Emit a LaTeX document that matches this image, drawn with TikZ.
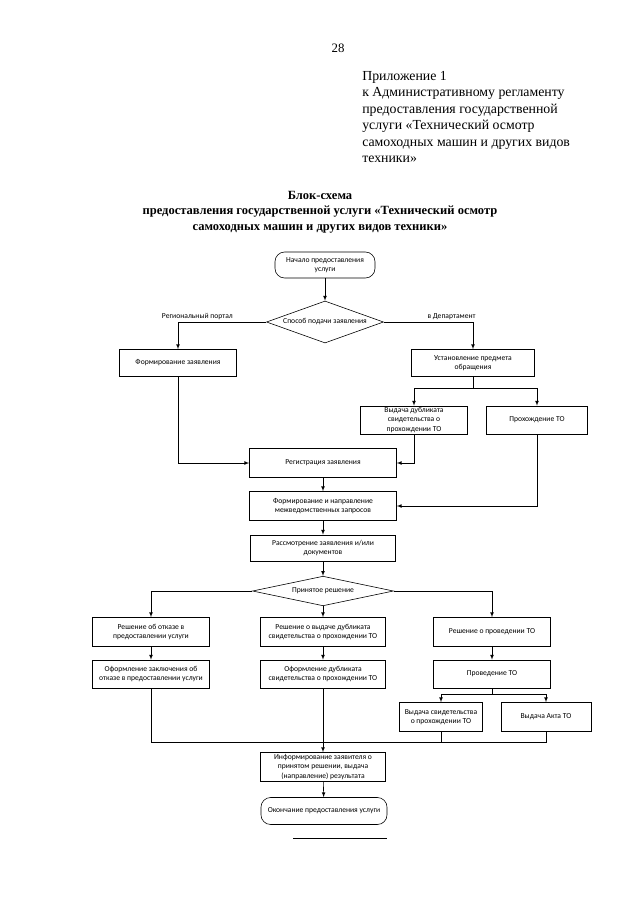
\documentclass[tikz,border=0pt]{standalone}
\usepackage{fontspec}
\setmainfont{Liberation Serif}
\newfontfamily\flowfont{Carlito}
\usetikzlibrary{shapes.geometric}
\newdimen\pxu \pxu=0.328125mm

\begin{document}
\begin{tikzpicture}
		[
		x=0.328125mm, y=-0.328125mm, >=latex, line width=0.55pt,
		%Voreinstellungen fuer die Bloecke
		block/.style={draw, rectangle, align=center, inner sep=1pt, font=\flowfont\fontsize{7.1}{8.8}\selectfont},
		term/.style={block, rounded corners=9pt},
		razv/.style={block, diamond, aspect=3},
		lbl/.style={font=\flowfont\fontsize{7.1}{8.8}\selectfont, inner sep=1.5pt}
		]
		
		%Seitenrahmen
		\useasboundingbox (0,0) rectangle (640,905);
		
		%Kopf
		\node[font=\fontsize{12}{14}\selectfont] (nomer) at (338,48) {28};
		\node[anchor=north west, align=left, inner sep=0pt, font=\fontsize{12.9}{15.4}\selectfont] (prilozh) at (362,71) {Приложение 1\\к Административному регламенту\\предоставления государственной\\услуги «Технический осмотр\\самоходных машин и других видов\\техники»};
		\node[align=center, inner sep=0pt, font=\fontsize{11.7}{14.6}\selectfont\bfseries] (zagol) at (320,212) {Блок-схема\\предоставления государственной услуги «Технический осмотр\\самоходных машин и других видов техники»};
		
		%Beginn und erste Verzweigung
		\node[term, minimum width=100\pxu, minimum height=26\pxu] (nach) at (325,265) {Начало предоставления\\услуги};
		\node[razv, minimum width=117\pxu, minimum height=42\pxu] (sposob) at (325,322) {Способ подачи заявления};
		\node[block, minimum width=117\pxu, minimum height=27\pxu] (formzay) at (178,363) {Формирование заявления};
		\node[block, minimum width=123\pxu, minimum height=27\pxu] (ustan) at (473,363) {Установление предмета\\обращения};
		\node[block, minimum width=107\pxu, minimum height=28\pxu] (dubl) at (414,420) {Выдача дубликата\\свидетельства о\\прохождении ТО};
		\node[block, minimum width=101\pxu, minimum height=28\pxu] (prohto) at (537,420) {Прохождение ТО};
		
		%Hauptlinie
		\node[block, minimum width=147\pxu, minimum height=29\pxu] (regist) at (323,463) {Регистрация заявления};
		\node[block, minimum width=147\pxu, minimum height=29\pxu] (mezhved) at (323,506) {Формирование и направление\\межведомственных запросов};
		\node[block, minimum width=145\pxu, minimum height=26\pxu] (rassm) at (323,548) {Рассмотрение заявления и/или\\документов};
		\node[razv, minimum width=141\pxu, minimum height=28\pxu] (reshen) at (323,591) {Принятое решение};
		
		%Entscheidungen
		\node[block, minimum width=117\pxu, minimum height=29\pxu] (otkaz) at (151,632) {Решение об отказе в\\предоставлении услуги};
		\node[block, minimum width=125\pxu, minimum height=29\pxu] (vydubl) at (323,632) {Решение о выдаче дубликата\\свидетельства о прохождении ТО};
		\node[block, minimum width=117\pxu, minimum height=29\pxu] (provresh) at (492,632) {Решение о проведении ТО};
		\node[block, minimum width=117\pxu, minimum height=28\pxu] (oformotk) at (151,674) {Оформление заключения об\\отказе в предоставлении услуги};
		\node[block, minimum width=125\pxu, minimum height=28\pxu] (oformdubl) at (323,674) {Оформление дубликата\\свидетельства о прохождении ТО};
		\node[block, minimum width=117\pxu, minimum height=28\pxu] (provto) at (492,674) {Проведение ТО};
		\node[block, minimum width=83\pxu, minimum height=29\pxu] (svid) at (441,717) {Выдача свидетельства\\о прохождении ТО};
		\node[block, minimum width=90\pxu, minimum height=29\pxu] (akt) at (546,717) {Выдача Акта ТО};
		
		%Ende
		\node[block, minimum width=125\pxu, minimum height=29\pxu] (inform) at (323,767) {Информирование заявителя о\\принятом решении, выдача\\(направление) результата};
		\node[term, minimum width=126\pxu, minimum height=27\pxu] (okonch) at (324,811) {Окончание предоставления услуги};
		
		%Hilfspunkte
		\coordinate (razd1) at (473,388);
		\coordinate (razd2) at (492,694);
		\coordinate (sliv) at (323,742);
		
		%Pfeile oben
		\draw[->] (nach) -- (sposob);
		\draw[->] (sposob.west) -| (formzay.north) node[lbl, pos=0.39, above] {Региональный портал};
		\draw[->] (sposob.east) -| (ustan.north) node[lbl, pos=0.38, above] {в Департамент};
		\draw (ustan.south) -- (razd1);
		\draw[->] (razd1) -| (dubl.north);
		\draw[->] (razd1) -| (prohto.north);
		\draw[->] (formzay.south) |- (regist.west);
		\draw[->] (dubl.south) |- (regist.east);
		\draw[->] (regist) -- (mezhved);
		\draw[->] (prohto.south) |- (mezhved.east);
		\draw[->] (mezhved) -- (rassm);
		\draw[->] (rassm) -- (reshen);
		
		%Pfeile unten
		\draw[->] (reshen.west) -| (otkaz.north);
		\draw[->] (reshen.east) -| (provresh.north);
		\draw[->] (reshen) -- (vydubl);
		\draw[->] (otkaz) -- (oformotk);
		\draw[->] (vydubl) -- (oformdubl);
		\draw[->] (provresh) -- (provto);
		\draw (provto.south) -- (razd2);
		\draw[->] (razd2) -| (svid.north);
		\draw[->] (razd2) -| (akt.north);
		\draw (oformotk.south) |- (sliv);
		\draw (svid.south) |- (sliv);
		\draw (akt.south) |- (sliv);
		\draw[->] (oformdubl) -- (inform);
		\draw[->] (inform) -- (okonch);
		
		%Strich unten
		\draw (293,838) -- (387,838);
	\end{tikzpicture}
\end{document}
